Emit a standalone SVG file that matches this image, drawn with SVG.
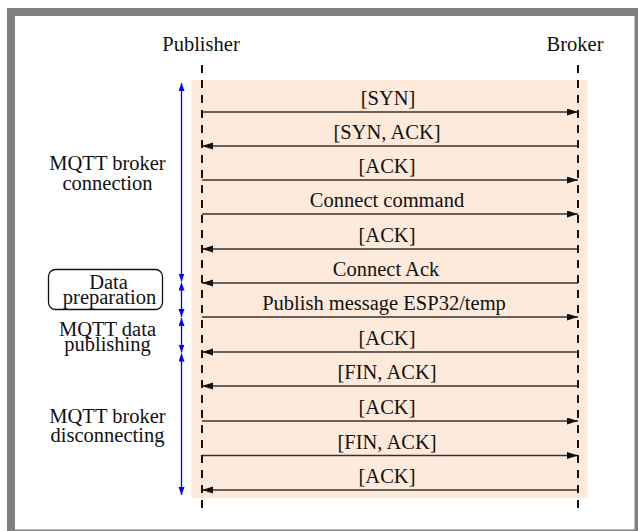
<svg xmlns="http://www.w3.org/2000/svg" width="638" height="531" viewBox="0 0 638 531">
  <defs>
    <marker id="ah" markerUnits="userSpaceOnUse" markerWidth="12" markerHeight="8" refX="11" refY="3.5" orient="auto">
      <path d="M0,0 L11,3.5 L0,7 z" fill="#111"/>
    </marker>
    <marker id="bh" markerUnits="userSpaceOnUse" markerWidth="9" markerHeight="7" refX="8" refY="3" orient="auto-start-reverse">
      <path d="M0,0 L8,3 L0,6 z" fill="#0000ff"/>
    </marker>
    <style>
      text { font-family: "Liberation Serif", "Times New Roman", serif; font-size: 20.5px; fill: #111; }
      .mid { text-anchor: middle; }
      .msg { stroke: #333; stroke-width: 1.6; fill: none; marker-end: url(#ah); }
      .life { stroke: #111; stroke-width: 2; stroke-dasharray: 8 7; fill: none; }
      .span { stroke: #0000ff; stroke-width: 1.3; fill: none; marker-start: url(#bh); marker-end: url(#bh); }
    </style>
  </defs>

  <!-- frame -->
  <rect x="7" y="8" width="631" height="523" fill="#808080"/>
  <rect x="15" y="16" width="619.5" height="513.5" fill="#ffffff"/>

  <!-- background region -->
  <rect x="191.5" y="80" width="396" height="418" fill="#fdeadb"/>

  <!-- actors -->
  <g id="publisher">
    <text class="mid" x="201" y="51">Publisher</text>
  </g>
  <g id="broker">
    <text class="mid" x="575" y="51">Broker</text>
  </g>

  <!-- phase labels -->
  <g id="phase-connection">
    <text class="mid" x="107.5" y="170">MQTT broker</text>
    <text class="mid" x="107.5" y="189.5">connection</text>
  </g>
  <g id="phase-preparation">
    <rect x="48.5" y="269.5" width="114" height="40" rx="7" ry="7" fill="none" stroke="#111" stroke-width="1.3"/>
    <text class="mid" x="108.5" y="289">Data</text>
    <text class="mid" x="109.5" y="303.5">preparation</text>
  </g>
  <g id="phase-publishing">
    <text class="mid" x="107.5" y="335.5">MQTT data</text>
    <text class="mid" x="107.5" y="351">publishing</text>
  </g>
  <g id="phase-disconnecting">
    <text class="mid" x="107.5" y="422.5">MQTT broker</text>
    <text class="mid" x="107.5" y="442">disconnecting</text>
  </g>

  <!-- connectors -->
  <g id="connectors">
    <line class="span" x1="181.5" y1="83" x2="181.5" y2="281.5"/>
    <line class="span" x1="181.5" y1="282.5" x2="181.5" y2="317"/>
    <line class="span" x1="181.5" y1="318" x2="181.5" y2="352.5"/>
    <line class="span" x1="181.5" y1="353.5" x2="181.5" y2="495"/>

    <line class="msg" x1="202" y1="112" x2="578" y2="112"/>
    <line class="msg" x1="578" y1="146" x2="202" y2="146"/>
    <line class="msg" x1="202" y1="180" x2="578" y2="180"/>
    <line class="msg" x1="202" y1="214" x2="578" y2="214"/>
    <line class="msg" x1="578" y1="249" x2="202" y2="249"/>
    <line class="msg" x1="578" y1="283" x2="202" y2="283"/>
    <line class="msg" x1="202" y1="317" x2="578" y2="317"/>
    <line class="msg" x1="578" y1="352" x2="202" y2="352"/>
    <line class="msg" x1="578" y1="386" x2="202" y2="386"/>
    <line class="msg" x1="202" y1="421" x2="578" y2="421"/>
    <line class="msg" x1="202" y1="455.5" x2="578" y2="455.5"/>
    <line class="msg" x1="578" y1="490" x2="202" y2="490"/>

    <line class="life" x1="202" y1="65" x2="202" y2="510"/>
    <line class="life" x1="578" y1="65" x2="578" y2="510"/>
  </g>

  <!-- message labels -->
  <g id="labels">
    <text class="mid" x="388" y="105">[SYN]</text>
    <text class="mid" x="387" y="139">[SYN, ACK]</text>
    <text class="mid" x="387" y="173">[ACK]</text>
    <text class="mid" x="387" y="207">Connect command</text>
    <text class="mid" x="387" y="242">[ACK]</text>
    <text class="mid" x="386" y="276">Connect Ack</text>
    <text class="mid" x="384" y="310">Publish message ESP32/temp</text>
    <text class="mid" x="387" y="345">[ACK]</text>
    <text class="mid" x="387" y="379">[FIN, ACK]</text>
    <text class="mid" x="387" y="414">[ACK]</text>
    <text class="mid" x="387" y="448.5">[FIN, ACK]</text>
    <text class="mid" x="387" y="483">[ACK]</text>
  </g>
</svg>
